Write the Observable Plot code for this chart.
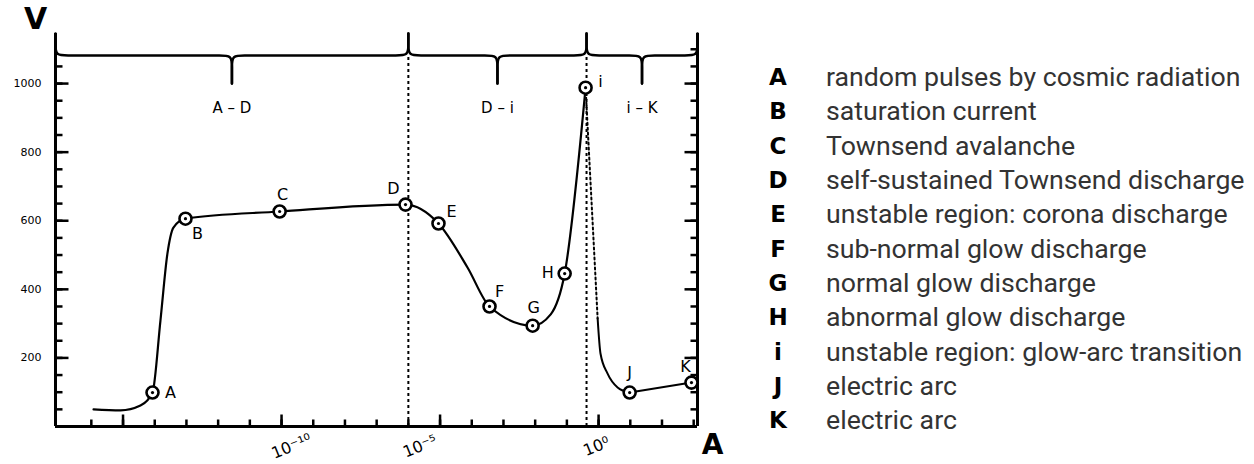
<!DOCTYPE html>
<html>
<head>
<meta charset="utf-8">
<script src="https://cdn.jsdelivr.net/npm/d3@7"></script>
<script src="https://cdn.jsdelivr.net/npm/@observablehq/plot@0.6"></script>
<style>
  body { margin: 0; background: #fff; }
  #wrap { position: relative; width: 1254px; height: 464px; overflow: hidden; }
  #chart { position: absolute; left: 0; top: 0; }
  #legend { position: absolute; left: 760px; top: 60px; font-family: Roboto, "Noto Sans", sans-serif; }
  .row { height: 34.3px; display: flex; align-items: center; }
  .key { width: 36px; text-align: center; font: bold 23px "DejaVu Sans", sans-serif; color: #000; }
  .desc { margin-left: 30px; font-size: 26.7px; color: #333; white-space: nowrap; }
</style>
</head>
<body>
<div id="wrap"><div id="chart"></div><div id="legend"></div></div>
<script>
// ---- data (x = log10 of current in A, y = voltage in V) ----
const pointLabels = ["A", "B", "C", "D", "E", "F", "G", "H", "i", "J", "K"];
const pointLogI   = [-14.07, -13.03, -10.06, -6.09, -5.05, -3.44, -2.08, -1.07, -0.41, 0.98, 2.93];
const pointV      = [99, 606, 627, 647, 592, 350, 294, 446, 988, 99, 128];
const descriptions = [
  "random pulses by cosmic radiation",
  "saturation current",
  "Townsend avalanche",
  "self-sustained Townsend discharge",
  "unstable region: corona discharge",
  "sub-normal glow discharge",
  "normal glow discharge",
  "abnormal glow discharge",
  "unstable region: glow-arc transition",
  "electric arc",
  "electric arc"
];
// glow branch: start of curve up to point i
const glowLogI = [-15.93, -15.08, -14.45, -14.07, -13.82, -13.60, -13.41, -13.03, -10.06, -6.09, -5.05, -4.13, -3.44, -2.08, -1.51, -1.07, -0.41];
const glowV    = [50, 47, 61, 99, 309, 504, 580, 606, 627, 647, 592, 463, 350, 294, 327, 446, 988];
// unstable jump from i to the arc branch (dotted)
const jumpLogI = [-0.41, -0.03];
const jumpV    = [988, 315];
// arc branch down to J
const arcLogI = [-0.03, 0.06, 0.28, 0.60, 0.98];
const arcV    = [315, 213, 155, 114, 99];
// arc J -> K
const arcTailLogI = [0.98, 2.93];
const arcTailV    = [99, 128];
// regions (braces) and their boundaries
const regionNames  = ["A – D", "D – i", "i – K"];
const regionBounds = [-17.13, -6.0, -0.38, 3.12];
// axes
const xDomain = [-17.13, 3.12];
const yDomain = [0, 1146];
const yTickLabels = [200, 400, 600, 800, 1000];
const yMinorTicksLeft = d3.range(50, 1051, 50);
const yMinorTicksRight = d3.range(50, 1101, 50);
const xMinorTicks = d3.range(-16, 4, 1);
const xMajorTicks = [-15, -10, -5, 0];
const xTickLabels = [-10, -5, 0];

// ---- layout & styling only ----
const W = 745, H = 464, mL = 55, mR = 48, mT = 33, mB = 38;
const labelOffsets = { A: [18, 0], B: [12, 15], C: [3, -17], D: [-12, -16], E: [13, -12], F: [10, -15],
                       G: [1, -18], H: [-17, -1], i: [15, -6], J: [0, -20], K: [-6, -16] };
const xLabelNudge = { "-10": 10, "-5": -20, "0": -2 };
const braceTop = 1146, braceBase = 1082, braceTip = 1000;
// pixel lengths of inward ticks converted to data units
const pxX = (xDomain[1] - xDomain[0]) / (W - mL - mR);
const pxY = (yDomain[1] - yDomain[0]) / (H - mT - mB);

// ---- derived tables ----
const toRows = (xs, ys) => xs.map((x, i) => ({ x, y: ys[i] }));
const points = pointLabels.map((label, i) => ({ label, x: pointLogI[i], y: pointV[i] }));
const glow = toRows(glowLogI, glowV);
const jump = toRows(jumpLogI, jumpV);
const arc = toRows(arcLogI, arcV);
const arcTail = toRows(arcTailLogI, arcTailV);
const regions = regionNames.map((name, i) => ({ name, from: regionBounds[i], to: regionBounds[i + 1], mid: (regionBounds[i] + regionBounds[i + 1]) / 2 }));

function braceHalf(a, m, id) {
  const s = Math.sign(m - a), r = 0.4;
  return [
    [a, braceTop], [a, braceBase + 30], [a, braceBase], [a + s * r, braceBase], [a + s * 2 * r, braceBase],
    [m - s * 2 * r, braceBase], [m - s * r, braceBase], [m, braceBase], [m, braceBase - 30], [m, braceTip]
  ].map(([x, y]) => ({ x, y, id }));
}
const braces = regions.flatMap((r, i) => [...braceHalf(r.from, r.mid, i + "a"), ...braceHalf(r.to, r.mid, i + "b")]);

const sup = { "-": "⁻", "0": "⁰", "1": "¹", "2": "²", "3": "³", "4": "⁴", "5": "⁵", "6": "⁶", "7": "⁷", "8": "⁸", "9": "⁹" };
const pow10 = (e) => "10" + String(e).split("").map(c => sup[c]).join("");

const tickStyle = { stroke: "#000", strokeWidth: 2.5 };
const yTicks = (data, x0, len) => Plot.link(data.map(v => ({ x1: x0, x2: x0 + len * pxX, y: v })), { x1: "x1", x2: "x2", y1: "y", y2: "y", ...tickStyle });
const xTicks = (data, len) => Plot.link(data.map(v => ({ x: v, y2: len * pxY })), { x1: "x", x2: "x", y1: () => 0, y2: "y2", ...tickStyle });

const chart = Plot.plot({
  width: W,
  height: H,
  marginLeft: mL,
  marginRight: mR,
  marginTop: mT,
  marginBottom: mB,
  style: { fontFamily: "DejaVu Sans, sans-serif", fontSize: "12px", color: "#000", background: "#fff" },
  x: { domain: xDomain, label: null, axis: null },
  y: { domain: yDomain, label: null, axis: null },
  marks: [
    // braces over the regions
    Plot.line(braces, { x: "x", y: "y", z: "id", curve: "basis", stroke: "#000", strokeWidth: 2.5 }),
    Plot.text(regions, { x: "mid", y: () => braceTip, text: "name", dy: 25, fontSize: 15 }),
    // region boundaries
    Plot.ruleX(regionBounds.slice(1, 3), { y1: 0, y2: braceBase, stroke: "#000", strokeWidth: 2, strokeDasharray: "3,3" }),
    // inward ticks
    yTicks(yMinorTicksLeft, xDomain[0], 7),
    yTicks(yTickLabels, xDomain[0], 13),
    yTicks(yMinorTicksRight, xDomain[1], -7),
    yTicks(yTickLabels, xDomain[1], -13),
    xTicks(xMinorTicks, 7),
    xTicks(xMajorTicks, 12),
    // axis lines
    Plot.ruleX([xDomain[0], xDomain[1]], { y1: 0, y2: braceTop, stroke: "#000", strokeWidth: 3 }),
    Plot.ruleY([0], { stroke: "#000", strokeWidth: 3 }),
    // tick labels
    Plot.text(yTickLabels, { x: () => xDomain[0], y: d => d, text: d => String(d), dx: -14, textAnchor: "end", fontSize: 11 }),
    ...xTickLabels.map(e => Plot.text([e], { x: d => d, y: () => 0, text: pow10, dx: xLabelNudge[e], dy: 20, rotate: -22, fontSize: 16 })),
    // curves
    Plot.line(glow, { x: "x", y: "y", curve: "monotone-x", stroke: "#000", strokeWidth: 2.2 }),
    Plot.line(jump, { x: "x", y: "y", stroke: "#000", strokeWidth: 2, strokeDasharray: "2,3" }),
    Plot.line(arc, { x: "x", y: "y", curve: "monotone-x", stroke: "#000", strokeWidth: 2 }),
    Plot.line(arcTail, { x: "x", y: "y", stroke: "#000", strokeWidth: 2 }),
    // points
    Plot.dot(points, { x: "x", y: "y", r: 6, fill: "#fff", stroke: "#000", strokeWidth: 2.6 }),
    Plot.dot(points, { x: "x", y: "y", r: 1.6, fill: "#000" }),
    ...points.map(p => Plot.text([p], { x: "x", y: "y", text: "label", dx: labelOffsets[p.label][0], dy: labelOffsets[p.label][1], fontSize: 16 })),
    // axis names
    Plot.text(["V"], { frameAnchor: "top-left", textAnchor: "middle", lineAnchor: "middle", dx: -20, dy: -14, fontSize: 30, fontWeight: "bold" }),
    Plot.text(["A"], { frameAnchor: "bottom-right", textAnchor: "middle", lineAnchor: "middle", dx: 15, dy: 19, fontSize: 28, fontWeight: "bold" })
  ]
});
document.getElementById("chart").append(chart);

const legend = d3.select("#legend");
pointLabels.forEach((k, i) => {
  const row = legend.append("div").attr("class", "row");
  row.append("div").attr("class", "key").text(k);
  row.append("div").attr("class", "desc").text(descriptions[i]);
});
</script>
</body>
</html>
